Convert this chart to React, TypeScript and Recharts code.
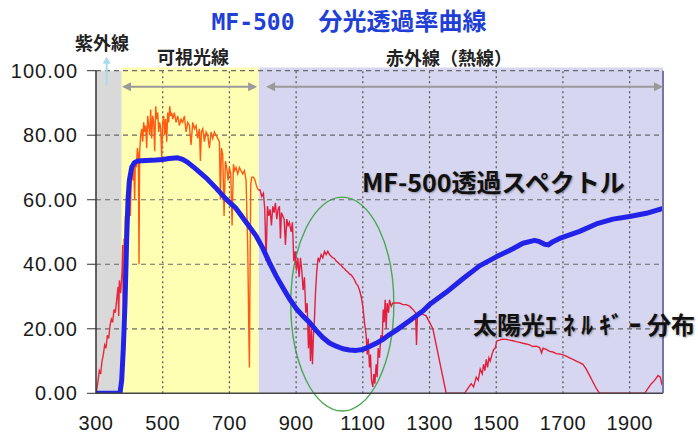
import React from 'react';
import { LineChart, Line, XAxis, YAxis, ReferenceArea, ReferenceLine } from 'recharts';

// ---- data ----
const xTicks = [300, 500, 700, 900, 1100, 1300, 1500, 1700, 1900];
const yTicks = [0, 20, 40, 60, 80, 100];
const rightTicks = [0, 1, 2, 3, 4, 5, 6, 7, 8];
const xGrid = [500, 700, 900, 1100, 1300, 1500, 1700, 1900];
const yGrid = [20, 40, 60, 80, 100];

// wavelength bands (nm)
const uvBand = [300, 377];
const visBand = [377, 788];
const irBand = [788, 2000];

// MF-500 transmission (%), [wavelength, value]
const transmission: [number, number][] = [
  [300, 0], [340, 0], [372, 0], [377, 4], [382, 14], [387, 28], [392, 48], [396, 60], [400, 66], [407, 70],
  [415, 71.5], [425, 72], [450, 72.2], [480, 72.3], [500, 72.5], [520, 72.8], [545, 73], [560, 72.5],
  [575, 71.6], [600, 69.5], [630, 66.8], [660, 63.6], [690, 60.2], [720, 57.3], [750, 53], [780, 48.8],
  [800, 45], [820, 40.5], [840, 36.4], [860, 32.8], [880, 29.3], [900, 26.3], [920, 24], [940, 22],
  [960, 19.5], [980, 17.3], [1000, 15.6], [1020, 14.6], [1040, 13.8], [1060, 13.4], [1080, 13.3],
  [1100, 13.6], [1120, 14.5], [1140, 15.5], [1160, 16.7], [1180, 18.2], [1200, 19.5], [1240, 22.5],
  [1280, 25.5], [1300, 27.5], [1350, 31.3], [1400, 35.5], [1450, 39.5], [1500, 42.3], [1550, 44.8],
  [1580, 46.5], [1615, 47.4], [1630, 47], [1645, 46.2], [1656, 46], [1670, 47], [1690, 48], [1750, 50.2],
  [1800, 52.5], [1850, 54], [1900, 54.8], [1950, 55.8], [2000, 57.3],
];

// solar energy distribution (relative), [wavelength, value]
const solar: [number, number][] = [
  [300, 0], [305, 3], [310, 7], [314, 6], [318, 10], [322, 12], [326, 15], [330, 14], [334, 18], [338, 17],
  [342, 21], [346, 23], [350, 22], [354, 26], [358, 25], [362, 29], [366, 33], [368, 24], [370, 35], [374, 31],
  [378, 38], [380, 46], [382, 20], [384, 48], [386, 40], [388, 55], [390, 30], [392, 50], [395, 62], [398, 58],
  [400, 64], [403, 55], [406, 68], [410, 66], [413, 70], [416, 60], [418, 72], [421, 70], [424, 76], [427, 74],
  [429, 40], [431, 75], [434, 80], [437, 82], [440, 78], [443, 84], [446, 81], [449, 83], [452, 76], [455, 86],
  [458, 83], [461, 80], [464, 88], [467, 79], [470, 86], [473, 84], [476, 75], [479, 89], [482, 85], [485, 87],
  [488, 81], [491, 84], [494, 82], [497, 73], [500, 84], [503, 86], [506, 80], [509, 85], [512, 78], [515, 87],
  [518, 84], [521, 89], [524, 86], [527, 87], [530, 85], [535, 87], [540, 84], [545, 86], [550, 83], [555, 85],
  [560, 84], [565, 86], [570, 81], [575, 84], [580, 83], [585, 77], [590, 84], [595, 82], [600, 83], [605, 79],
  [610, 82], [613, 72], [616, 81], [620, 82], [625, 78], [630, 81], [635, 80], [640, 76], [645, 81], [650, 79],
  [655, 81], [660, 80], [665, 79], [670, 78], [673, 60], [676, 76], [680, 74], [684, 55], [688, 72], [692, 70],
  [696, 66], [700, 70], [704, 68], [708, 52], [712, 71], [716, 69], [720, 70], [725, 68], [730, 70], [735, 69],
  [740, 68], [745, 69], [750, 66], [755, 45], [758, 20], [760, 8], [762, 40], [764, 65], [767, 67], [772, 67],
  [777, 66], [782, 64], [787, 63], [792, 63], [797, 61], [802, 62], [806, 57], [810, 41], [814, 58], [818, 55],
  [822, 57], [826, 52], [830, 58], [834, 56], [838, 59], [842, 54], [846, 57], [850, 58], [853, 48], [856, 56],
  [860, 55], [864, 54], [868, 46], [872, 54], [876, 52], [880, 53], [885, 50], [889, 53], [893, 41], [897, 44],
  [901, 38], [905, 42], [909, 36], [913, 42], [917, 38], [921, 32], [925, 36], [929, 25], [933, 28], [937, 14],
  [940, 22], [943, 10], [946, 20], [949, 9], [952, 18], [955, 23], [958, 31], [962, 38], [966, 42], [970, 41],
  [975, 43], [980, 42], [985, 44], [990, 43], [995, 44], [1000, 43], [1005, 42.5], [1010, 42], [1015, 41.8],
  [1020, 41], [1025, 40.6], [1030, 40], [1035, 39.7], [1040, 39], [1045, 38.6], [1050, 38], [1055, 37.6],
  [1060, 37], [1065, 36.7], [1070, 36], [1075, 35.2], [1080, 34], [1085, 33.4], [1090, 32], [1095, 30],
  [1100, 27], [1105, 22], [1110, 18],
  [1113, 12], [1116, 17], [1120, 8], [1123, 12], [1126, 4], [1130, 2], [1133, 6], [1136, 3], [1140, 9],
  [1143, 5], [1146, 14], [1150, 11], [1154, 18], [1158, 16], [1161, 26], [1164, 22], [1167, 29], [1170, 20],
  [1173, 28], [1177, 25], [1180, 29], [1185, 27], [1190, 28], [1200, 28], [1210, 28], [1220, 27.5], [1230, 27.5],
  [1240, 27], [1250, 26], [1258, 25], [1261, 15], [1264, 25], [1270, 25.3], [1280, 24.5], [1290, 24], [1300, 22],
  [1310, 20], [1320, 15], [1330, 10], [1340, 5], [1350, 0], [1405, 0], [1415, 1.5], [1425, 3], [1432, 2],
  [1440, 5], [1446, 4], [1452, 7.5], [1458, 6], [1462, 9], [1466, 7], [1470, 10.5], [1474, 8], [1478, 11],
  [1482, 10], [1487, 12], [1492, 13.5], [1497, 14], [1502, 16.3], [1510, 16.5], [1520, 16.8], [1530, 16.7],
  [1540, 16.5], [1550, 16.3], [1560, 16], [1570, 15.8], [1580, 15.5], [1590, 15.3], [1600, 15], [1610, 14.5],
  [1620, 14.6], [1630, 14.2], [1636, 12.5], [1640, 14], [1650, 13.6], [1660, 13], [1670, 12.8], [1680, 12.3],
  [1690, 12.2], [1700, 11.9], [1710, 11.5], [1720, 11], [1730, 10.5], [1740, 10], [1750, 9.5], [1760, 9],
  [1770, 7.5], [1780, 5.5], [1790, 3.5], [1800, 1.5], [1810, 0], [1945, 0], [1955, 1.5], [1965, 3], [1975, 4],
  [1985, 5.5], [1992, 5], [1996, 3], [2000, 2],
];

// band arrows (wavelength range, level)
const visArrow = [378, 783];
const irArrow = [810, 2000];
const arrowLevel = 95;
const uvArrow = { x: 332, from: 95.6, to: 104.3 };
// highlighted absorption region (ellipse bounds)
const ellipseBox = { x1: 884, x2: 1193, y1: -5.5, y2: 60.8 };

const transmissionData = transmission.map(([x, y]) => ({ x, y }));
const solarData = solar.map(([x, y]) => ({ x, y }));

const arrowShape = (color: string, both: boolean, sw: number, hl: number, hw: number) => (props: any) => {
  const { x1, y1, x2, y2 } = props;
  const dx = x2 - x1;
  const dy = y2 - y1;
  const len = Math.hypot(dx, dy) || 1;
  const ux = dx / len;
  const uy = dy / len;
  const head = (tx: number, ty: number, ax: number, ay: number) =>
    `${tx},${ty} ${tx - ax * hl - ay * hw},${ty - ay * hl + ax * hw} ${tx - ax * hl + ay * hw},${ty - ay * hl - ax * hw}`;
  const sx = both ? x1 + ux * hl * 0.8 : x1;
  const sy = both ? y1 + uy * hl * 0.8 : y1;
  return (
    <g>
      <line x1={sx} y1={sy} x2={x2 - ux * hl * 0.8} y2={y2 - uy * hl * 0.8} stroke={color} strokeWidth={sw} />
      <polygon points={head(x2, y2, ux, uy)} fill={color} />
      {both && <polygon points={head(x1, y1, -ux, -uy)} fill={color} />}
    </g>
  );
};

const ellipseShape = (props: any) => {
  const { x, y, width, height } = props;
  return (
    <ellipse cx={x + width / 2} cy={y + height / 2} rx={width / 2} ry={height / 2}
      fill="none" stroke="#4aa84e" strokeWidth={1.4} />
  );
};

const jp = '"Noto Sans CJK JP", "Noto Sans", sans-serif';

export default function App() {
  return (
    <div style={{ position: 'absolute', left: 0, top: 0, width: 698, height: 433, overflow: 'hidden', background: '#fff' }}>
      <LineChart width={698} height={433} margin={{ top: 70.7, right: 35, left: 0, bottom: 9.7 }}>
        <defs>
          <linearGradient id="solarGrad" x1="0" y1="0" x2="1" y2="0">
            <stop offset="0" stopColor="#e8283c" />
            <stop offset="0.047" stopColor="#e8283c" />
            <stop offset="0.047" stopColor="#ff5a12" />
            <stop offset="0.287" stopColor="#ff5a12" />
            <stop offset="0.287" stopColor="#e0203c" />
            <stop offset="1" stopColor="#e0203c" />
          </linearGradient>
        </defs>
        <ReferenceArea x1={uvBand[0]} x2={uvBand[1]} y1={0} y2={100} fill="#d9d9d9" fillOpacity={1} stroke="none" ifOverflow="visible" />
        <ReferenceArea x1={visBand[0]} x2={visBand[1]} y1={0} y2={101} fill="#ffffb4" fillOpacity={1} stroke="none" ifOverflow="visible" />
        <ReferenceArea x1={irBand[0]} x2={irBand[1]} y1={0} y2={101} fill="#d6d6f0" fillOpacity={1} stroke="none" ifOverflow="visible" />
        {yGrid.map((v) => (
          <ReferenceLine key={'h' + v} y={v} stroke="#6a6a6a" strokeWidth={1.2} strokeDasharray="5 4" />
        ))}
        {xGrid.map((v) => (
          <ReferenceLine key={'v' + v} x={v} stroke="#505050" strokeWidth={1.2} strokeDasharray="2 3" />
        ))}
        <XAxis dataKey="x" type="number" domain={[300, 2000]} allowDataOverflow ticks={xTicks} height={30}
          tickLine={false} tickSize={0} tickMargin={22} axisLine={{ stroke: '#444', strokeWidth: 1.5 }}
          tick={{ fontSize: 20, fill: '#1a1a1a', fontFamily: '"Liberation Sans", Arial, sans-serif', letterSpacing: 0.5 }} />
        <YAxis domain={[0, 100]} ticks={yTicks} width={96} allowDataOverflow
          tickFormatter={(v: number) => v.toFixed(2)} tickSize={9} tickMargin={9}
          axisLine={{ stroke: '#333', strokeWidth: 1.5 }} tickLine={{ stroke: '#333' }}
          tick={{ fontSize: 20, fill: '#1a1a1a', fontFamily: '"Liberation Sans", Arial, sans-serif', letterSpacing: 1 }} />
        <YAxis yAxisId="r" orientation="right" mirror domain={[0, 8]} ticks={rightTicks} tick={false}
          tickSize={8} axisLine={{ stroke: '#7676a6', strokeWidth: 2 }} tickLine={{ stroke: '#555588', strokeWidth: 1.5 }} />
        <Line data={solarData} dataKey="y" type="linear" stroke="url(#solarGrad)" strokeWidth={1.4}
          dot={false} activeDot={false} isAnimationActive={false} />
        <Line data={transmissionData} dataKey="y" type="linear" stroke="#2222e8" strokeWidth={5}
          dot={false} activeDot={false} isAnimationActive={false} strokeLinejoin="round" />
        <ReferenceArea x1={ellipseBox.x1} x2={ellipseBox.x2} y1={ellipseBox.y1} y2={ellipseBox.y2}
          ifOverflow="visible" shape={ellipseShape} />
        <ReferenceLine segment={[{ x: visArrow[0], y: arrowLevel }, { x: visArrow[1], y: arrowLevel }]}
          ifOverflow="visible" shape={arrowShape('#9a9a9a', true, 2, 9, 4.5)} />
        <ReferenceLine segment={[{ x: irArrow[0], y: arrowLevel }, { x: irArrow[1], y: arrowLevel }]}
          ifOverflow="visible" shape={arrowShape('#9a9a9a', true, 2, 9, 4.5)} />
        <ReferenceLine segment={[{ x: uvArrow.x, y: uvArrow.from }, { x: uvArrow.x, y: uvArrow.to }]}
          ifOverflow="visible" shape={arrowShape('#a8dce8', false, 2, 7, 4)} />
      </LineChart>

      <div style={{ position: 'absolute', left: 0, width: 698, top: 6, textAlign: 'center', color: '#1f3fd6', lineHeight: '28px', whiteSpace: 'nowrap' }}>
        <span style={{ fontFamily: '"DejaVu Sans Mono", monospace', fontSize: 23, fontWeight: 700 }}>MF-500</span>
        <span style={{ fontFamily: jp, fontSize: 24, fontWeight: 700 }}>{'　分光透過率曲線'}</span>
      </div>
      <div style={{ position: 'absolute', left: 75, top: 33, fontFamily: jp, fontSize: 18, fontWeight: 700, color: '#222', lineHeight: '18px', whiteSpace: 'nowrap' }}>紫外線</div>
      <div style={{ position: 'absolute', left: 157, top: 47, fontFamily: jp, fontSize: 18, fontWeight: 700, color: '#222', lineHeight: '18px', whiteSpace: 'nowrap' }}>可視光線</div>
      <div style={{ position: 'absolute', left: 386, top: 47.5, fontFamily: jp, fontSize: 18, fontWeight: 700, color: '#222', lineHeight: '18px', whiteSpace: 'nowrap' }}>赤外線（熱線）</div>
      <div style={{ position: 'absolute', left: 362, top: 169, fontFamily: jp, fontSize: 25, fontWeight: 700, color: '#111', lineHeight: '25px', whiteSpace: 'nowrap', textShadow: '1px 1px 2px rgba(0,0,0,0.35)' }}>MF-500透過スペクトル</div>
      <div style={{ position: 'absolute', left: 473, top: 312, fontFamily: jp, fontSize: 24, fontWeight: 700, color: '#111', lineHeight: '24px', whiteSpace: 'nowrap', textShadow: '1px 1px 2px rgba(0,0,0,0.35)' }}>
        太陽光<span style={{ letterSpacing: 6 }}>ｴﾈﾙｷﾞｰ</span>分布
      </div>
    </div>
  );
}
